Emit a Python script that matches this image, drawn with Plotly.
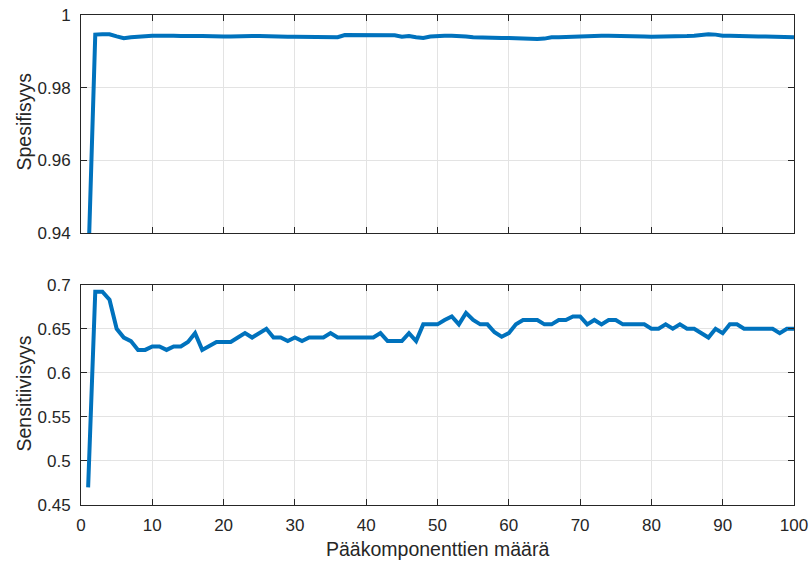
import plotly.graph_objects as go
from plotly.subplots import make_subplots

components = list(range(1, 101))

specificity = [
    0.93, 0.9946, 0.9947, 0.9947, 0.9941, 0.9936, 0.9939, 0.9941, 0.9943, 0.9943,
    0.9943, 0.9944, 0.9943, 0.9942, 0.9943, 0.9942, 0.9942, 0.9941, 0.9942, 0.9941,
    0.9941, 0.9942, 0.9941, 0.9942, 0.9942, 0.9941, 0.9940, 0.9940, 0.9940, 0.9940,
    0.9940, 0.9940, 0.9938, 0.9938, 0.9939, 0.9939, 0.9945, 0.9945, 0.9946, 0.9946,
    0.9946, 0.9946, 0.9945, 0.9944, 0.9940, 0.9942, 0.9939, 0.9937, 0.9941, 0.9943,
    0.9943, 0.9943, 0.9943, 0.9941, 0.9939, 0.9938, 0.9939, 0.9938, 0.9937, 0.9937,
    0.9936, 0.9935, 0.9935, 0.9934, 0.9935, 0.9939, 0.9939, 0.9940, 0.9940, 0.9941,
    0.9941, 0.9943, 0.9943, 0.9943, 0.9943, 0.9943, 0.9942, 0.9942, 0.9941, 0.9940,
    0.9940, 0.9941, 0.9941, 0.9942, 0.9942, 0.9943, 0.9945, 0.9947, 0.9946, 0.9943,
    0.9943, 0.9942, 0.9942, 0.9940, 0.9941, 0.9941, 0.9940, 0.9940, 0.9939, 0.9939,
]

sensitivity = [
    0.47, 0.692, 0.692, 0.683, 0.65, 0.64, 0.636, 0.626, 0.626, 0.63,
    0.63, 0.626, 0.63, 0.63, 0.635, 0.645, 0.626, 0.63, 0.635, 0.635,
    0.635, 0.64, 0.645, 0.64, 0.645, 0.65, 0.64, 0.64, 0.636, 0.64,
    0.636, 0.64, 0.64, 0.64, 0.645, 0.64, 0.64, 0.64, 0.64, 0.64,
    0.64, 0.645, 0.636, 0.636, 0.636, 0.645, 0.636, 0.655, 0.655, 0.655,
    0.66, 0.664, 0.655, 0.668, 0.66, 0.655, 0.655, 0.646, 0.641, 0.645,
    0.655, 0.66, 0.66, 0.66, 0.655, 0.655, 0.66, 0.66, 0.664, 0.664,
    0.655, 0.66, 0.655, 0.66, 0.66, 0.655, 0.655, 0.655, 0.655, 0.65,
    0.65, 0.655, 0.65, 0.655, 0.65, 0.65, 0.645, 0.64, 0.65, 0.645,
    0.655, 0.655, 0.65, 0.65, 0.65, 0.65, 0.65, 0.645, 0.65, 0.65,
]

x_ticks = list(range(0, 101, 10))
top_ticks = [0.94, 0.96, 0.98, 1.0]
top_ticktext = ["0.94", "0.96", "0.98", "1"]
bottom_ticks = [0.45, 0.5, 0.55, 0.6, 0.65, 0.7]
bottom_ticktext = ["0.45", "0.5", "0.55", "0.6", "0.65", "0.7"]

top_ylabel = "Spesifisyys"
bottom_ylabel = "Sensitiivisyys"
xlabel = "Pääkomponenttien määrä"

LINE = "#0072BD"
AX = "#262626"
GRID = "#e3e3e3"
FONT = "Liberation Sans, Arial, sans-serif"
FS = 17
TFS = 19.5

fig = make_subplots(rows=2, cols=1, shared_xaxes=False, vertical_spacing=0.105)

fig.add_trace(go.Scatter(x=components, y=specificity, mode="lines",
                         line=dict(color=LINE, width=4), showlegend=False), row=1, col=1)
fig.add_trace(go.Scatter(x=components, y=sensitivity, mode="lines",
                         line=dict(color=LINE, width=4), showlegend=False), row=2, col=1)

common_x = dict(range=[0, 100], tickvals=x_ticks, showgrid=True, gridcolor=GRID, gridwidth=1,
                showline=True, linecolor=AX, linewidth=1, mirror="ticks",
                ticks="inside", ticklen=6, tickcolor=AX, zeroline=False, automargin=False,
                tickfont=dict(family=FONT, size=FS, color=AX))
common_y = dict(showgrid=True, gridcolor=GRID, gridwidth=1,
                showline=True, linecolor=AX, linewidth=1, mirror="ticks",
                ticks="inside", ticklen=6, tickcolor=AX, zeroline=False, automargin=False,
                ticklabelstandoff=6,
                tickfont=dict(family=FONT, size=FS, color=AX))

fig.update_xaxes(**common_x, showticklabels=False, row=1, col=1)
fig.update_xaxes(**common_x, showticklabels=True, ticklabelstandoff=5, row=2, col=1)
fig.update_yaxes(**common_y, range=[0.94, 1.0], tickvals=top_ticks, ticktext=top_ticktext, row=1, col=1)
fig.update_yaxes(**common_y, range=[0.45, 0.7], tickvals=bottom_ticks, ticktext=bottom_ticktext, row=2, col=1)

fig.update_layout(
    width=811, height=561,
    margin=dict(l=81, r=17, t=15, b=56),
    plot_bgcolor="white", paper_bgcolor="white",
    font=dict(family=FONT, size=FS, color=AX),
)
fig.layout.yaxis.domain = [0.555, 1.0]
fig.layout.yaxis2.domain = [0.0, 0.4496]

pw = 811 - 81 - 17
ph = 561 - 15 - 56
fig.add_annotation(text=top_ylabel, textangle=-90, xref="paper", yref="paper",
                   x=(23.5 - 81) / pw, y=(505 - 122) / ph, showarrow=False,
                   xanchor="center", yanchor="middle",
                   font=dict(family=FONT, size=TFS, color=AX))
fig.add_annotation(text=bottom_ylabel, textangle=-90, xref="paper", yref="paper",
                   x=(23.5 - 81) / pw, y=(505 - 394) / ph, showarrow=False,
                   xanchor="center", yanchor="middle",
                   font=dict(family=FONT, size=TFS, color=AX))
fig.add_annotation(text=xlabel, xref="paper", yref="paper",
                   x=(437.5 - 81) / pw, y=(505 - 549) / ph, showarrow=False,
                   xanchor="center", yanchor="middle",
                   font=dict(family=FONT, size=TFS, color=AX))

fig.write_html("out.html")
